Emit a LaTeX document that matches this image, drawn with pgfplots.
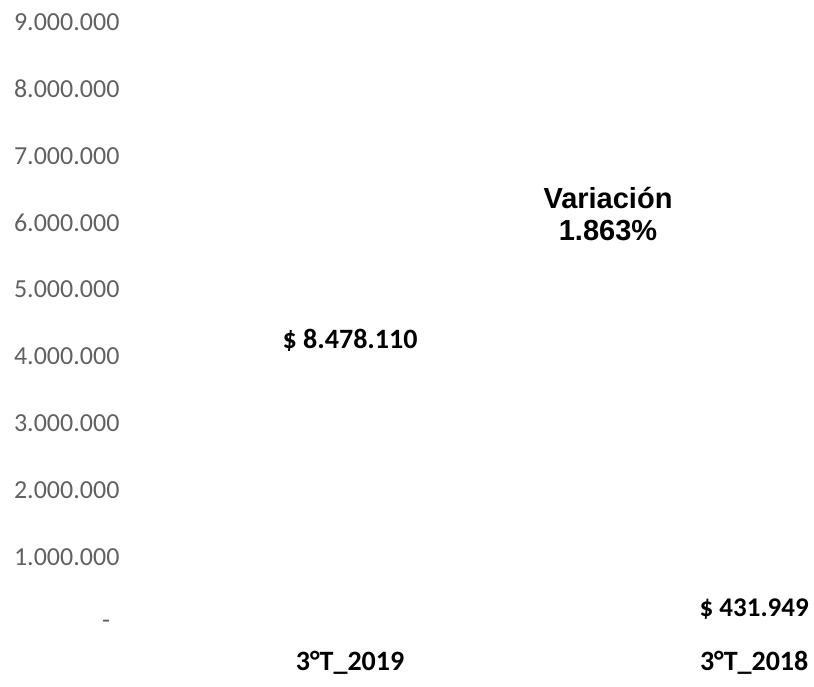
\documentclass[border=0pt]{standalone}
\usepackage{fontspec}
\setmainfont{Carlito}
\newfontfamily\arialf{Liberation Sans}
\usepackage{pgfplots}
\pgfplotsset{compat=1.18}
\begin{document}
\begin{tikzpicture}
\path[use as bounding box] (0,0) rectangle (407pt,343pt);
\begin{axis}[
  at={(70pt,31pt)}, anchor=south west,
  scale only axis, width=337pt, height=301pt,
  xmin=-0.52, xmax=1.148, ymin=0, ymax=9000000,
  scaled y ticks=false,
  axis line style={draw=none}, tick style={draw=none},
  ytick={0,1000000,2000000,3000000,4000000,5000000,6000000,7000000,8000000,9000000},
  yticklabels={\hspace*{44pt}-,1.000.000,2.000.000,3.000.000,4.000.000,5.000.000,6.000.000,7.000.000,8.000.000,9.000.000},
  yticklabel style={anchor=west, xshift=-66.5pt, font=\fontsize{13}{15}\selectfont, text=black!62},
  xtick={0,1}, xticklabels={3°T\_2019,3°T\_2018},
  xticklabel style={anchor=base, yshift=-23pt, font=\bfseries\fontsize{14}{16}\selectfont},
]
\addplot[ybar, bar width=110pt, fill=white, draw=none] coordinates {(0,8478110) (1,431949)};
\node[font=\bfseries\fontsize{14}{16}\selectfont] at (axis cs:0,4239055) {\$ 8.478.110};
\node[font=\bfseries\fontsize{13.5}{16}\selectfont] at (axis cs:1,215975) {\$ 431.949};
\end{axis}
\node[align=center, font=\arialf\bfseries\fontsize{14.5}{16}\selectfont] at (304pt,236pt) {Variación\\1.863\%};
\end{tikzpicture}
\end{document}
